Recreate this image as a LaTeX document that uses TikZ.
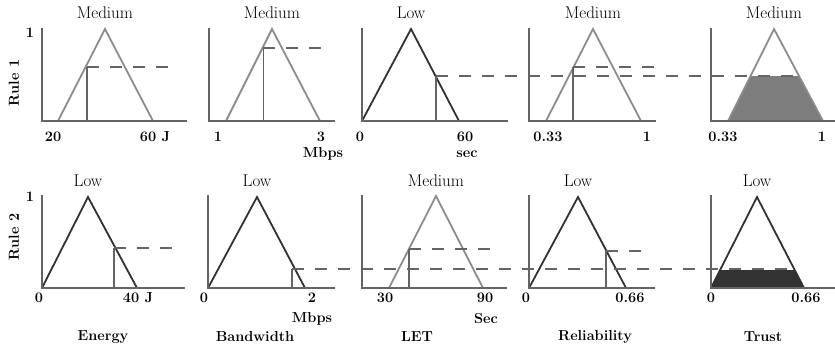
\documentclass[tikz,border=0pt]{standalone}
\usepackage{fontspec}
\definecolor{axgray}{RGB}{100,100,100}
\definecolor{mgray}{RGB}{140,140,140}
\definecolor{dgray}{RGB}{50,50,50}
\definecolor{cutgray}{RGB}{100,100,100}
\definecolor{fillg}{RGB}{125,125,125}
\definecolor{filld}{RGB}{50,50,50}
\begin{document}
\begin{tikzpicture}[x=1pt,y=-1pt,
  axis/.style={draw=axgray, line width=2pt},
  mfg/.style={draw=mgray, line width=1.8pt},
  mfd/.style={draw=dgray, line width=1.8pt},
  cut/.style={draw=cutgray, line width=1.8pt},
  thincut/.style={draw=cutgray, line width=0.8pt},
  dsh/.style={draw=cutgray, line width=1.8pt, dash pattern=on 12pt off 11pt},
  ttl/.style={font=\fontsize{17}{17}\selectfont, inner sep=0pt},
  tick/.style={font=\fontsize{14.5}{14.5}\selectfont\bfseries, inner sep=0pt},
  var/.style={font=\fontsize{14.5}{14.5}\selectfont\bfseries, inner sep=0pt}]
\useasboundingbox (0,0) rectangle (835,349);
% ---------- row labels
\node[tick] (one1) at (30,33) {1};
\node[tick] (one2) at (30,197) {1};
\node[var, rotate=90] (rule1) at (14,83) {Rule 1};
\node[var, rotate=90] (rule2) at (14,237) {Rule 2};
% ---------- Row 1
% panel 1
\draw[mfg] (58,121) -- (105,29) -- (153,121);
\draw[cut] (87,121) -- (87,67);
\draw[dsh] (87,67) -- (172,67);
\draw[axis] (42,28) |- (187,121);
\node[ttl] (t11) at (105,13) {Medium};
\node[tick] (a11) at (53,137) {20};
\node[tick] (b11) at (155,137) {60 J};
% panel 2
\draw[mfg] (226,121) -- (272,29) -- (320,121);
\draw[thincut] (263,121) -- (263,48);
\draw[dsh] (263,48) -- (325,48);
\draw[axis] (209,28) |- (335,121);
\node[ttl] (t12) at (272,13) {Medium};
\node[tick] (a12) at (218,137) {1};
\node[tick] (b12) at (321,137) {3};
\node[tick] (u12) at (323,154) {Mbps};
% panel 3
\draw[mfd] (362,121) -- (411,29) -- (459,121);
\draw[cut] (436,121) -- (436,76);
\draw[axis] (362,28) |- (508,121);
\node[ttl] (t13) at (411,13) {Low};
\node[tick] (a13) at (360,137) {0};
\node[tick] (b13) at (465,137) {60};
\node[tick] (u13) at (467,154) {sec};
% panel 4
\draw[mfg] (546,121) -- (593,29) -- (641,121);
\draw[cut] (573,121) -- (573,67);
\draw[dsh] (573,67) -- (656,67);
\draw[axis] (529,28) |- (656,121);
\node[ttl] (t14) at (593,13) {Medium};
\node[tick] (a14) at (548,137) {0.33};
\node[tick] (b14) at (647,137) {1};
% panel 5
\fill[fillg] (728,121) -- (751,76) -- (799,76) -- (823,121) -- cycle;
\draw[mfg] (728,121) -- (774,29) -- (823,121);
\draw[axis] (711,28) |- (835,121);
\node[ttl] (t15) at (774,13) {Medium};
\node[tick] (a15) at (723,137) {0.33};
\node[tick] (b15) at (822,137) {1};
% long dashed line row 1
\draw[dsh] (436,76) -- (800,76);
% ---------- Row 2
% panel 1
\draw[mfd] (42,288) -- (88,197) -- (137,288);
\draw[cut] (114,288) -- (114,248);
\draw[dsh] (114,248) -- (177,248);
\draw[axis] (42,195) |- (185,288);
\node[ttl] (t21) at (88,181) {Low};
\node[tick] (a21) at (39,298) {0};
\node[tick] (b21) at (138,298) {40 J};
\node[var] (v1) at (103,337) {Energy};
% panel 2
\draw[mfd] (208,288) -- (257,197) -- (305,288);
\draw[cut] (292,288) -- (292,269);
\draw[axis] (208,195) |- (335,288);
\node[ttl] (t22) at (257,181) {Low};
\node[tick] (a22) at (204,298) {0};
\node[tick] (b22) at (312,298) {2};
\node[tick] (u22) at (312,319) {Mbps};
\node[var] (v2) at (255,337) {Bandwidth};
% panel 3
\draw[mfg] (389,288) -- (436,196) -- (483,288);
\draw[cut] (409,288) -- (409,249);
\draw[dsh] (409,249) -- (493,249);
\draw[axis] (362,195) |- (507,288);
\node[ttl] (t23) at (436,181) {Medium};
\node[tick] (a23) at (385,298) {30};
\node[tick] (b23) at (485,298) {90};
\node[tick] (u23) at (486,319) {Sec};
\node[var] (v3) at (417,337) {LET};
% panel 4
\draw[mfd] (529,288) -- (578,197) -- (626,288);
\draw[cut] (606,288) -- (606,251);
\draw[dsh] (606,251) -- (645,251);
\draw[axis] (529,195) |- (655,288);
\node[ttl] (t24) at (578,181) {Low};
\node[tick] (a24) at (526,298) {0};
\node[tick] (b24) at (630,298) {0.66};
\node[var] (v4) at (595,337) {Reliability};
% panel 5
\fill[filld] (711,288) -- (720,270) -- (795,270) -- (804,288) -- cycle;
\draw[mfd] (711,288) -- (757,197) -- (804,288);
\draw[axis] (711,195) |- (835,288);
\node[ttl] (t25) at (757,181) {Low};
\node[tick] (a25) at (711,298) {0};
\node[tick] (b25) at (806,298) {0.66};
\node[var] (v5) at (763,337) {Trust};
% long dashed line row 2
\draw[dsh] (292,269) -- (795,269);
\end{tikzpicture}
\end{document}
